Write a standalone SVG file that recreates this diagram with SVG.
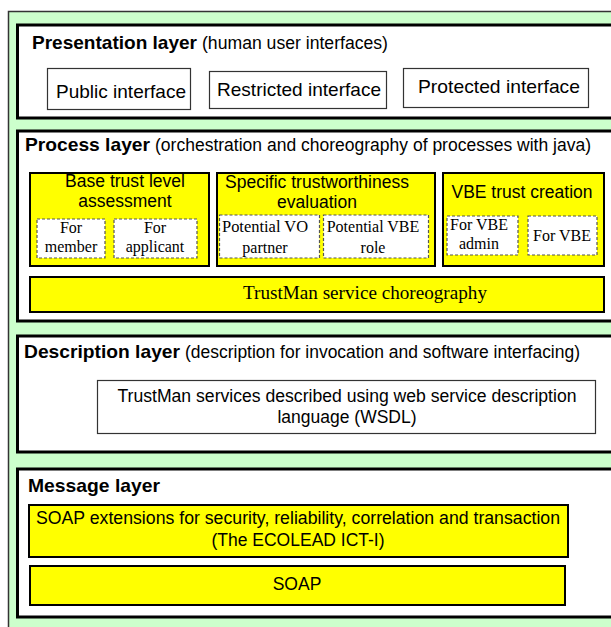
<svg xmlns="http://www.w3.org/2000/svg" width="611" height="627" viewBox="0 0 611 627">
<style>
.layer{fill:#ffffff;stroke:#000000;stroke-width:3}
.ybox{fill:#ffff00;stroke:#000000;stroke-width:2}
.wbox{fill:#ffffff;stroke:#333333;stroke-width:1.2}
.dbox{fill:#ffffff;stroke:#555555;stroke-width:1.2;stroke-dasharray:3,2}
.t{font-family:"Liberation Sans",Arial,sans-serif;fill:#000}
.b{font-family:"Liberation Sans",Arial,sans-serif;font-weight:bold;font-size:19px;fill:#000}
.s{font-family:"Liberation Serif","Times New Roman",serif;fill:#000}
</style>
<rect width="611" height="627" fill="#ffffff"/>
<rect x="8.5" y="11.5" width="620" height="630" fill="#ccffcc" stroke="#333333" stroke-width="1.5"/>

<g id="presentation">
<rect class="layer" x="17.5" y="25" width="610" height="93"/>
<text class="b" x="32" y="49" textLength="165" lengthAdjust="spacingAndGlyphs">Presentation layer</text>
<text class="t" x="202" y="49" font-size="17.5" textLength="186" lengthAdjust="spacingAndGlyphs">(human user interfaces)</text>
</g>
<g id="public">
<rect class="wbox" x="47.5" y="68.5" width="143" height="41"/>
<text class="t" x="121" y="98" font-size="19" text-anchor="middle" textLength="130" lengthAdjust="spacingAndGlyphs">Public interface</text>
</g>
<g id="restricted">
<rect class="wbox" x="209.5" y="71.5" width="177" height="37"/>
<text class="t" x="299" y="96" font-size="19" text-anchor="middle" textLength="164" lengthAdjust="spacingAndGlyphs">Restricted interface</text>
</g>
<g id="protected">
<rect class="wbox" x="403.5" y="68.5" width="185" height="39"/>
<text class="t" x="499" y="93" font-size="19" text-anchor="middle" textLength="162" lengthAdjust="spacingAndGlyphs">Protected interface</text>
</g>

<g id="process">
<rect class="layer" x="17.5" y="131" width="610" height="190"/>
<text class="b" x="25" y="151" textLength="125" lengthAdjust="spacingAndGlyphs">Process layer</text>
<text class="t" x="155" y="151" font-size="17.5" textLength="436" lengthAdjust="spacingAndGlyphs">(orchestration and choreography of processes with java)</text>
</g>
<g id="base-trust">
<rect class="ybox" x="30" y="173" width="179" height="93"/>
<text class="t" x="125" y="187" font-size="17.5" text-anchor="middle" textLength="120" lengthAdjust="spacingAndGlyphs">Base trust level</text>
<text class="t" x="125" y="207" font-size="17.5" text-anchor="middle">assessment</text>
</g>
<g id="for-member">
<rect class="dbox" x="37" y="219" width="68" height="39"/>
<text class="s" x="71" y="233" font-size="16" text-anchor="middle">For</text>
<text class="s" x="71" y="252" font-size="16" text-anchor="middle">member</text>
</g>
<g id="for-applicant">
<rect class="dbox" x="114" y="219" width="83" height="39"/>
<text class="s" x="155" y="233" font-size="16" text-anchor="middle">For</text>
<text class="s" x="155" y="252" font-size="16" text-anchor="middle">applicant</text>
</g>
<g id="specific-trust">
<rect class="ybox" x="217" y="173" width="218" height="93"/>
<text class="t" x="317" y="188" font-size="17.5" text-anchor="middle">Specific trustworthiness</text>
<text class="t" x="317" y="208" font-size="17.5" text-anchor="middle">evaluation</text>
</g>
<g id="potential-vo">
<rect class="dbox" x="219.5" y="215" width="100" height="43"/>
<text class="s" x="265" y="232" font-size="16" text-anchor="middle" textLength="86" lengthAdjust="spacingAndGlyphs">Potential VO</text>
<text class="s" x="265" y="253" font-size="16" text-anchor="middle">partner</text>
</g>
<g id="potential-vbe">
<rect class="dbox" x="323.5" y="215" width="105" height="43"/>
<text class="s" x="373" y="232" font-size="16" text-anchor="middle">Potential VBE</text>
<text class="s" x="373" y="253" font-size="16" text-anchor="middle">role</text>
</g>
<g id="vbe-trust">
<rect class="ybox" x="443" y="173" width="161" height="93"/>
<text class="t" x="522" y="198" font-size="17.5" text-anchor="middle">VBE trust creation</text>
</g>
<g id="for-vbe-admin">
<rect class="dbox" x="447" y="216" width="71" height="39"/>
<text class="s" x="479" y="230" font-size="16" text-anchor="middle">For VBE</text>
<text class="s" x="479" y="249" font-size="16" text-anchor="middle">admin</text>
</g>
<g id="for-vbe">
<rect class="dbox" x="528" y="216" width="69" height="39"/>
<text class="s" x="562" y="241" font-size="16" text-anchor="middle">For VBE</text>
</g>
<g id="choreography">
<rect class="ybox" x="30" y="277" width="574" height="35"/>
<text class="s" x="365" y="299" font-size="19" text-anchor="middle" textLength="244" lengthAdjust="spacingAndGlyphs">TrustMan service choreography</text>
</g>

<g id="description">
<rect class="layer" x="17.5" y="336" width="610" height="116"/>
<text class="b" x="24" y="358" textLength="156" lengthAdjust="spacingAndGlyphs">Description layer</text>
<text class="t" x="185" y="358" font-size="17.5" textLength="395" lengthAdjust="spacingAndGlyphs">(description for invocation and software interfacing)</text>
</g>
<g id="wsdl">
<rect class="wbox" x="97.5" y="380.5" width="498" height="53"/>
<text class="t" x="347" y="402" font-size="17.5" text-anchor="middle" textLength="459" lengthAdjust="spacingAndGlyphs">TrustMan services described using web service description</text>
<text class="t" x="347" y="423" font-size="17.5" text-anchor="middle">language (WSDL)</text>
</g>

<g id="message">
<rect class="layer" x="17.5" y="469" width="610" height="148"/>
<text class="b" x="28" y="492" textLength="132" lengthAdjust="spacingAndGlyphs">Message layer</text>
</g>
<g id="soap-extensions">
<rect class="ybox" x="29" y="505" width="539" height="52"/>
<text class="t" x="298" y="524" font-size="17.5" text-anchor="middle" textLength="524" lengthAdjust="spacingAndGlyphs">SOAP extensions for security, reliability, correlation and transaction</text>
<text class="t" x="298" y="546" font-size="17.5" text-anchor="middle">(The ECOLEAD ICT-I)</text>
</g>
<g id="soap">
<rect class="ybox" x="30" y="566" width="535" height="39"/>
<text class="t" x="297" y="590" font-size="17.5" text-anchor="middle">SOAP</text>
</g>
<g id="connectors"></g>
</svg>
